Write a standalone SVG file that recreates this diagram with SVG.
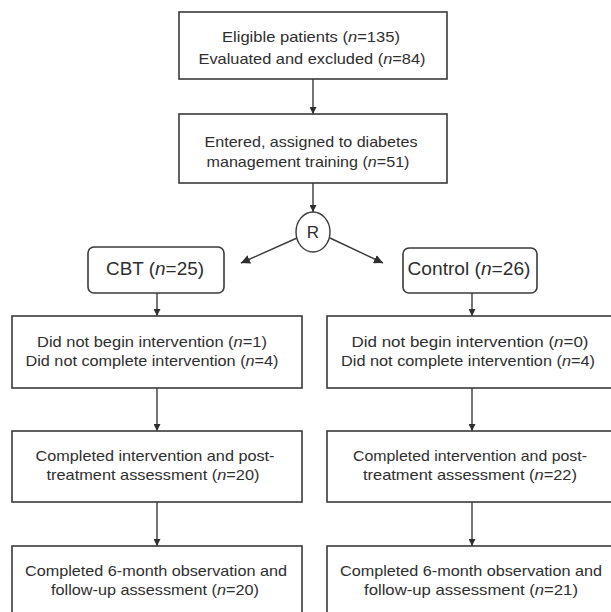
<svg xmlns="http://www.w3.org/2000/svg" width="611" height="612" viewBox="0 0 611 612">
<style>
.box{fill:#fff;stroke:#3a3a3a;stroke-width:1.6}
.t{font-family:"Liberation Sans",Arial,sans-serif;font-size:15px;fill:#2e2e2e;text-anchor:middle}
.big{font-size:17.5px}
.r{font-size:17px}
.i{font-style:italic}
.c{stroke:#3a3a3a;stroke-width:1.4;fill:none}
</style>
<defs>
<marker id="ah" viewBox="0 0 10 10" refX="10" refY="5" markerWidth="7" markerHeight="7" markerUnits="userSpaceOnUse" orient="auto">
<path d="M0,0 L10,5 L0,10 z" fill="#2e2e2e"/>
</marker>
<marker id="ah2" viewBox="0 0 10 10" refX="10" refY="5" markerWidth="9" markerHeight="9" markerUnits="userSpaceOnUse" orient="auto">
<path d="M0,0 L10,5 L0,10 z" fill="#2e2e2e"/>
</marker>
</defs>
<rect width="611" height="612" fill="#fff"/>
<g id="connectors">
<line class="c" x1="313" y1="79" x2="313" y2="114" marker-end="url(#ah)"/>
<line class="c" x1="313" y1="183" x2="313" y2="212" marker-end="url(#ah)"/>
<line class="c" x1="297" y1="238" x2="241" y2="263" marker-end="url(#ah2)"/>
<line class="c" x1="330" y1="238" x2="383" y2="263" marker-end="url(#ah2)"/>
<line class="c" x1="157" y1="293" x2="157" y2="316" marker-end="url(#ah)"/>
<line class="c" x1="157" y1="388" x2="157" y2="431" marker-end="url(#ah)"/>
<line class="c" x1="157" y1="502" x2="157" y2="546" marker-end="url(#ah)"/>
<line class="c" x1="472" y1="293" x2="472" y2="316" marker-end="url(#ah)"/>
<line class="c" x1="472" y1="388" x2="472" y2="431" marker-end="url(#ah)"/>
<line class="c" x1="472" y1="502" x2="472" y2="546" marker-end="url(#ah)"/>
</g>
<g id="eligible">
<rect class="box" x="179" y="12" width="268" height="67"/>
<text class="t" x="311" y="42" textLength="178" lengthAdjust="spacingAndGlyphs">Eligible patients  (<tspan class="i">n</tspan>=135)</text>
<text class="t" x="312" y="64" textLength="227" lengthAdjust="spacingAndGlyphs">Evaluated and excluded  (<tspan class="i">n</tspan>=84)</text>
</g>
<g id="entered">
<rect class="box" x="179" y="114" width="268" height="69"/>
<text class="t" x="311" y="147" textLength="213" lengthAdjust="spacingAndGlyphs">Entered, assigned to diabetes</text>
<text class="t" x="308" y="167" textLength="203" lengthAdjust="spacingAndGlyphs">management training  (<tspan class="i">n</tspan>=51)</text>
</g>
<g id="randomize">
<ellipse cx="313" cy="232" rx="17" ry="20" fill="#fff" stroke="#3a3a3a" stroke-width="1.4"/>
<text class="t r" x="313" y="238">R</text>
</g>
<g id="cbt">
<rect class="box" x="88" y="247" width="136" height="46" rx="6"/>
<text class="t big" x="155" y="275" textLength="98" lengthAdjust="spacingAndGlyphs">CBT (<tspan class="i">n</tspan>=25)</text>
</g>
<g id="control">
<rect class="box" x="403" y="248" width="134" height="45" rx="6"/>
<text class="t big" x="469" y="275" textLength="123" lengthAdjust="spacingAndGlyphs">Control (<tspan class="i">n</tspan>=26)</text>
</g>
<g id="cbt-dropout">
<rect class="box" x="12" y="316" width="290" height="72"/>
<text class="t" x="152" y="347" textLength="230" lengthAdjust="spacingAndGlyphs">Did not begin intervention (<tspan class="i">n</tspan>=1)</text>
<text class="t" x="152" y="366" textLength="253" lengthAdjust="spacingAndGlyphs">Did not complete intervention (<tspan class="i">n</tspan>=4)</text>
</g>
<g id="cbt-post">
<rect class="box" x="12" y="431" width="290" height="71"/>
<text class="t" x="155" y="461" textLength="239" lengthAdjust="spacingAndGlyphs">Completed intervention and post-</text>
<text class="t" x="153" y="480" textLength="213" lengthAdjust="spacingAndGlyphs">treatment assessment (<tspan class="i">n</tspan>=20)</text>
</g>
<g id="cbt-followup">
<rect class="box" x="12" y="546" width="290" height="80"/>
<text class="t" x="156" y="576" textLength="262" lengthAdjust="spacingAndGlyphs">Completed 6-month observation and</text>
<text class="t" x="155" y="595" textLength="208" lengthAdjust="spacingAndGlyphs">follow-up assessment  (<tspan class="i">n</tspan>=20)</text>
</g>
<g id="control-dropout">
<rect class="box" x="327" y="316" width="290" height="72"/>
<text class="t" x="470" y="347" textLength="237" lengthAdjust="spacingAndGlyphs">Did not begin intervention (<tspan class="i">n</tspan>=0)</text>
<text class="t" x="468" y="366" textLength="254" lengthAdjust="spacingAndGlyphs">Did not complete intervention (<tspan class="i">n</tspan>=4)</text>
</g>
<g id="control-post">
<rect class="box" x="327" y="431" width="290" height="71"/>
<text class="t" x="470" y="461" textLength="234" lengthAdjust="spacingAndGlyphs">Completed intervention and post-</text>
<text class="t" x="470" y="480" textLength="214" lengthAdjust="spacingAndGlyphs">treatment assessment (<tspan class="i">n</tspan>=22)</text>
</g>
<g id="control-followup">
<rect class="box" x="327" y="546" width="290" height="80"/>
<text class="t" x="471" y="576" textLength="262" lengthAdjust="spacingAndGlyphs">Completed 6-month observation and</text>
<text class="t" x="471" y="595" textLength="214" lengthAdjust="spacingAndGlyphs">follow-up assessment  (<tspan class="i">n</tspan>=21)</text>
</g>
</svg>
